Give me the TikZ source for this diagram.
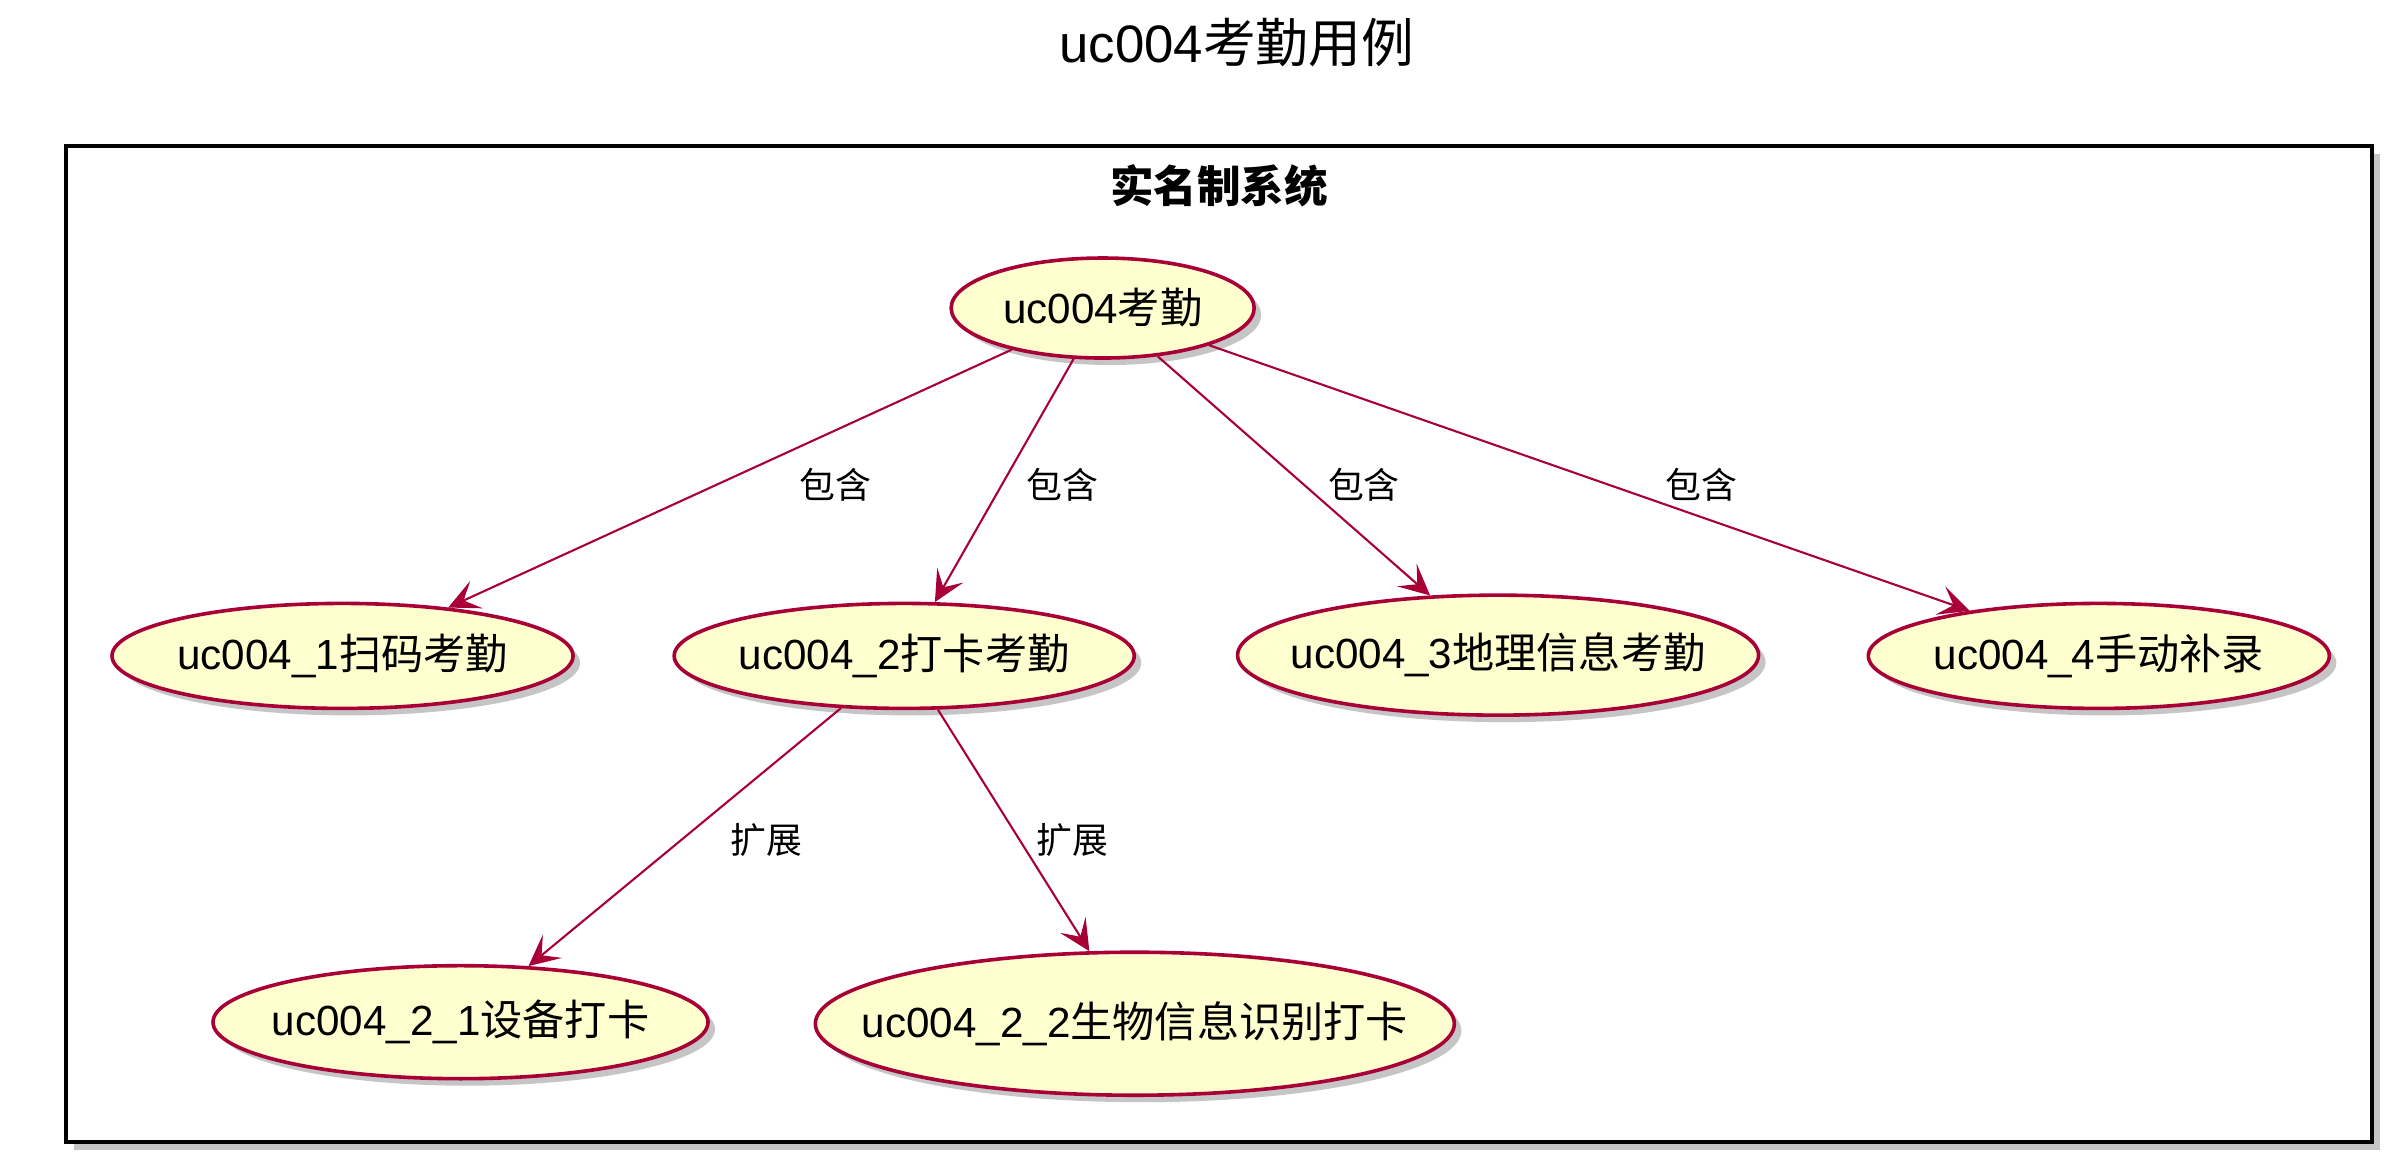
\documentclass[tikz,border=0pt]{standalone}
\usepackage{fontspec}
\setmainfont{Liberation Sans}
\newfontfamily\cjk{Noto Sans CJK SC}
\usepackage{tikz}
\usetikzlibrary{shapes.geometric,shadows,arrows.meta}
\definecolor{ucfill}{HTML}{FEFECE}
\definecolor{ucline}{HTML}{A80036}

\begin{document}
\begin{tikzpicture}[x=0.15325mm, y=-0.15325mm,
    uc/.style={ellipse, draw=ucline, fill=ucfill, line width=0.36mm, inner sep=0pt, inner xsep=-80pt,
      drop shadow={shadow xshift=0.7mm, shadow yshift=-0.7mm, fill=black!45, opacity=0.5},
      font=\fontsize{12}{14}\selectfont},
    rel/.style={draw=ucline, line width=0.21mm, -{Stealth[length=3.1mm, width=3mm, inset=1.4mm]}},
    lbl/.style={font=\cjk\fontsize{10.2}{12}\selectfont}]
        \useasboundingbox (0,0) rectangle (1568,764);
        \node[font=\fontsize{15}{18}\selectfont] (title) at (807,28) {uc004{\cjk 考勤用例}};
        \draw[line width=0.4mm, fill=white, drop shadow={shadow xshift=0.8mm, shadow yshift=-0.8mm, fill=black!45, opacity=0.5}] (43,95) rectangle (1548,745);
        \node[font=\cjk\bfseries\fontsize{12.4}{15}\selectfont] (sys) at (795.5,121) {实名制系统};

        \node[uc, minimum width=30.3mm, minimum height=10mm] (kq) at (719.5,201) {uc004{\cjk 考勤}};
        \node[uc, minimum width=46.1mm, minimum height=10.5mm] (kq1) at (223.5,428) {uc004\_1{\cjk 扫码考勤}};
        \node[uc, minimum width=46mm, minimum height=10.5mm] (kq2) at (590,428) {uc004\_2{\cjk 打卡考勤}};
        \node[uc, minimum width=52.1mm, minimum height=12mm] (kq3) at (977.5,427.5) {uc004\_3{\cjk 地理信息考勤}};
        \node[uc, minimum width=46.1mm, minimum height=10.5mm] (kq4) at (1369.5,428) {uc004\_4{\cjk 手动补录}};
        \node[uc, minimum width=49.5mm, minimum height=11.3mm] (kq21) at (300.5,667) {uc004\_2\_1{\cjk 设备打卡}};
        \node[uc, minimum width=63.9mm, minimum height=14.3mm] (kq22) at (740.5,668) {uc004\_2\_2{\cjk 生物信息识别打卡}};

        \draw[rel] (kq) -- (kq1);
        \draw[rel] (kq) -- (kq2);
        \draw[rel] (kq) -- (kq3);
        \draw[rel] (kq) -- (kq4);
        \draw[rel] (kq2) -- (kq21);
        \draw[rel] (kq2) -- (kq22);

        \node[lbl] (inc1) at (545,316) {包含};
        \node[lbl] (inc2) at (693,316) {包含};
        \node[lbl] (inc3) at (890,316) {包含};
        \node[lbl] (inc4) at (1110,316) {包含};
        \node[lbl] (ext1) at (500,548) {扩展};
        \node[lbl] (ext2) at (700,548) {扩展};
      \end{tikzpicture}
\end{document}
